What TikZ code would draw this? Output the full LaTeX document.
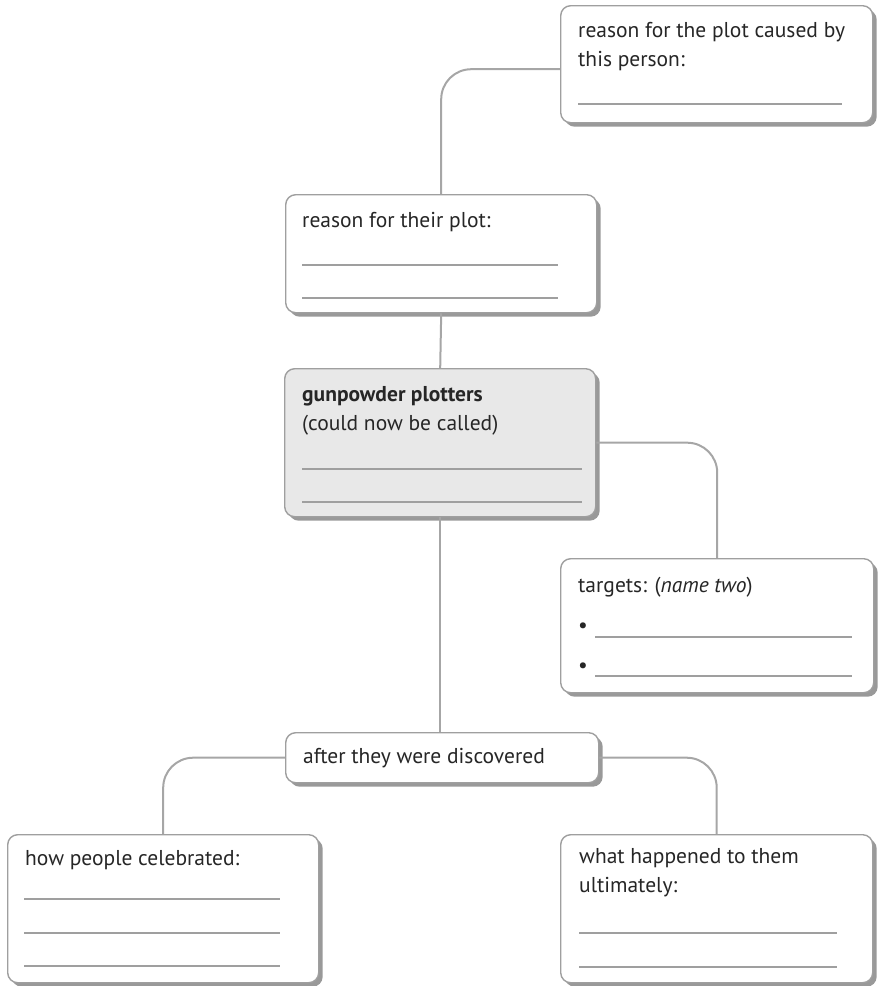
\documentclass[tikz,border=0pt]{standalone}
\usepackage{fontspec}
\setmainfont{PT Sans}
\usetikzlibrary{shadows}

\begin{document}
\begin{tikzpicture}[x=1pt,y=-1pt,every node/.style={font=\fontsize{21.5}{29}\selectfont, text=black!85}]
  \tikzstyle{box}=[draw=gray!75, line width=1.4pt, rounded corners=10pt, fill=white, anchor=north west, drop shadow={shadow xshift=4pt, shadow yshift=-4pt, fill=gray!80, opacity=1}]
  \tikzstyle{mainbox}=[box, fill=gray!18]
  \tikzstyle{txt}=[anchor=base west, inner sep=0pt, align=left]
  \tikzstyle{blank}=[draw=gray!75, line width=1.1pt]
  \tikzstyle{link}=[draw=gray!70, line width=2pt, rounded corners=30pt]

\useasboundingbox (0,0) rectangle (878,986);

\node [box, minimum width=312pt, minimum height=117pt] (cause) at (560,5) {};
\node [box, minimum width=311pt, minimum height=118pt] (reason) at (285,194) {};
\node [mainbox, minimum width=311pt, minimum height=148pt] (plotters) at (284,368) {};
\node [box, minimum width=313pt, minimum height=134pt] (targets) at (560,558) {};
\node [box, minimum width=313pt, minimum height=50pt] (after) at (285,732) {};
\node [box, minimum width=311pt, minimum height=148pt] (celebrate) at (7,834) {};
\node [box, minimum width=312pt, minimum height=148pt] (fate) at (560,834) {};

% texts (multi-line ones sit on their last line)
\node [txt] (cause_t) at ([shift={(18,61)}]cause.north west) {reason for the plot caused by\\this person:};
\node [txt] (reason_t) at ([shift={(17,33)}]reason.north west) {reason for their plot:};
\node [txt] (plotters_t) at ([shift={(18,62)}]plotters.north west) {\textbf{gunpowder plotters}\\(could now be called)};
\node [txt] (targets_t) at ([shift={(18,34)}]targets.north west) {targets: (\textit{name two})};
\node [txt] (bullet_1) at ([shift={(18,74)}]targets.north west) {\textbullet};
\node [txt] (bullet_2) at ([shift={(18,114)}]targets.north west) {\textbullet};
\node [txt] (after_t) at ([shift={(18,31)}]after.north west) {after they were discovered};
\node [txt] (celebrate_t) at ([shift={(18,31)}]celebrate.north west) {how people celebrated:};
\node [txt] (fate_t) at ([shift={(19,58)}]fate.north west) {what happened to them\\ultimately:};

% write-in lines
\draw [blank] ([shift={(18,99)}]cause.north west) -- ++(264,0);
\draw [blank] ([shift={(17,71)}]reason.north west) -- ++(256,0);
\draw [blank] ([shift={(17,104)}]reason.north west) -- ++(256,0);
\draw [blank] ([shift={(18,101)}]plotters.north west) -- ++(280,0);
\draw [blank] ([shift={(18,134)}]plotters.north west) -- ++(280,0);
\draw [blank] ([shift={(35,79)}]targets.north west) -- ++(257,0);
\draw [blank] ([shift={(35,118)}]targets.north west) -- ++(257,0);
\draw [blank] ([shift={(17,65)}]celebrate.north west) -- ++(256,0);
\draw [blank] ([shift={(17,99)}]celebrate.north west) -- ++(256,0);
\draw [blank] ([shift={(17,132)}]celebrate.north west) -- ++(256,0);
\draw [blank] ([shift={(19,99)}]fate.north west) -- ++(258,0);
\draw [blank] ([shift={(19,133)}]fate.north west) -- ++(258,0);

% connectors
\draw [link] ([yshift=-5pt]cause.west) -| (reason.north);
\draw [link] (reason.south) -- (plotters.north);
\draw [link] (plotters.east) -| (targets.north);
\draw [link] (plotters.south) -- (plotters.south |- after.north);
\draw [link] (after.west) -| (celebrate.north);
\draw [link] (after.east) -| (fate.north);

\end{tikzpicture}
\end{document}
